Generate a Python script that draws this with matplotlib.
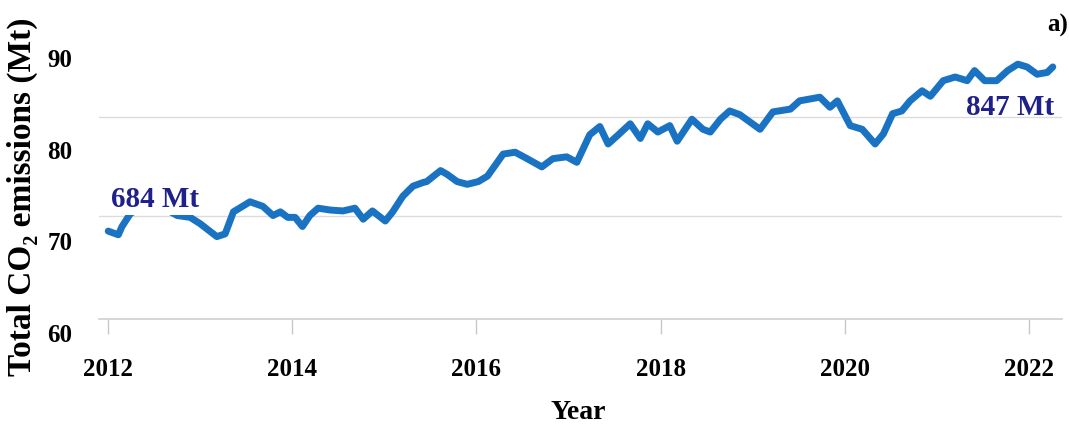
import numpy as np
import matplotlib.pyplot as plt

# Monthly-ish CO2 emissions trace (decimal year, Mt)
years = [2012.00, 2012.11, 2012.15, 2012.24, 2012.46, 2012.75, 2012.89, 2013.00,
         2013.18, 2013.27, 2013.36, 2013.54, 2013.68, 2013.79, 2013.87, 2013.95,
         2014.03, 2014.11, 2014.19, 2014.28, 2014.41, 2014.55, 2014.68, 2014.77,
         2014.87, 2015.01, 2015.09, 2015.20, 2015.31, 2015.42, 2015.46, 2015.61,
         2015.68, 2015.79, 2015.90, 2016.02, 2016.12, 2016.29, 2016.42, 2016.55,
         2016.71, 2016.83, 2016.98, 2017.09, 2017.23, 2017.34, 2017.43, 2017.53,
         2017.67, 2017.78, 2017.86, 2017.97, 2018.10, 2018.18, 2018.34, 2018.46,
         2018.54, 2018.65, 2018.75, 2018.86, 2018.97, 2019.08, 2019.22, 2019.41,
         2019.51, 2019.73, 2019.84, 2019.92, 2020.06, 2020.19, 2020.33, 2020.42,
         2020.52, 2020.62, 2020.71, 2020.84, 2020.93, 2021.07, 2021.20, 2021.33,
         2021.41, 2021.52, 2021.65, 2021.77, 2021.88, 2021.98, 2022.09, 2022.20,
         2022.26]
emissions = [71.0, 70.6, 71.5, 72.9, 74.3, 72.7, 72.5, 71.8,
             70.4, 70.7, 73.1, 74.2, 73.7, 72.7, 73.1, 72.5,
             72.5, 71.5, 72.7, 73.5, 73.3, 73.2, 73.5, 72.3,
             73.2, 72.1, 73.1, 74.8, 75.9, 76.3, 76.4, 77.6,
             77.2, 76.4, 76.1, 76.4, 77.0, 79.4, 79.6, 78.9,
             78.0, 78.9, 79.1, 78.5, 81.5, 82.4, 80.5, 81.4,
             82.7, 81.1, 82.7, 81.8, 82.5, 80.8, 83.2, 82.1,
             81.8, 83.2, 84.1, 83.7, 82.9, 82.1, 84.0, 84.3,
             85.2, 85.6, 84.5, 85.2, 82.5, 82.1, 80.5, 81.6,
             83.8, 84.1, 85.2, 86.3, 85.7, 87.4, 87.8, 87.4,
             88.5, 87.4, 87.4, 88.5, 89.2, 88.9, 88.1, 88.3,
             88.9]

year_ticks = [2012, 2014, 2016, 2018, 2020, 2022]
value_ticks = [60, 70, 80, 90]
grid_levels = [72.65, 83.45]
baseline = 61.4

start_label = "684 Mt"
end_label = "847 Mt"

plt.rcParams['font.family'] = ['Liberation Serif', 'DejaVu Serif']
plt.rcParams['font.weight'] = 'bold'

fig = plt.figure(figsize=(10.69, 4.35), dpi=100)
ax = fig.add_axes([99 / 1069, 0.2028, 963 / 1069, 0.7697])

line_color = '#1a73c2'
text_color = '#20208c'

for g in grid_levels:
    ax.axhline(g, color='#dcdcdc', lw=1.0, zorder=0)

ax.plot(years, emissions, color=line_color, lw=5, solid_capstyle='round',
        solid_joinstyle='round', zorder=2)

ax.set_xlim(2011.9, 2022.36)
ax.set_ylim(58.5, 95)

for side in ['left', 'right', 'top']:
    ax.spines[side].set_visible(False)
ax.spines['bottom'].set_position(('data', baseline))
ax.spines['bottom'].set_color('#d0d0d0')
ax.spines['bottom'].set_linewidth(1.2)

ax.set_xticks(year_ticks)
ax.set_yticks(value_ticks)
ax.tick_params(axis='x', length=11, width=1, color='#c8c8c8', pad=16, labelsize=18)
ax.tick_params(axis='y', length=0, pad=19, labelsize=18)

# start label sits on a white box so the line passes behind it
ax.text(2012.51, 74.6, start_label, color=text_color, fontsize=21, fontweight='bold',
        ha='center', va='center', zorder=3,
        bbox=dict(facecolor='white', edgecolor='none', pad=2))
ax.text(2021.80, 84.6, end_label, color=text_color, fontsize=21, fontweight='bold',
        ha='center', va='center', zorder=3)

fig.text(22 / 1069, 1 - 197 / 435, 'Total CO\u2082 emissions (Mt)',
         rotation=90, ha='center', va='center', fontsize=24, fontweight='bold')
fig.text(578 / 1069, 1 - 413 / 435, 'Year', ha='center', va='center',
         fontsize=20, fontweight='bold')
fig.text(1058 / 1069, 1 - 25 / 435, 'a)', ha='center', va='center',
         fontsize=18, fontweight='bold')

fig.savefig('out.png', dpi=100)
